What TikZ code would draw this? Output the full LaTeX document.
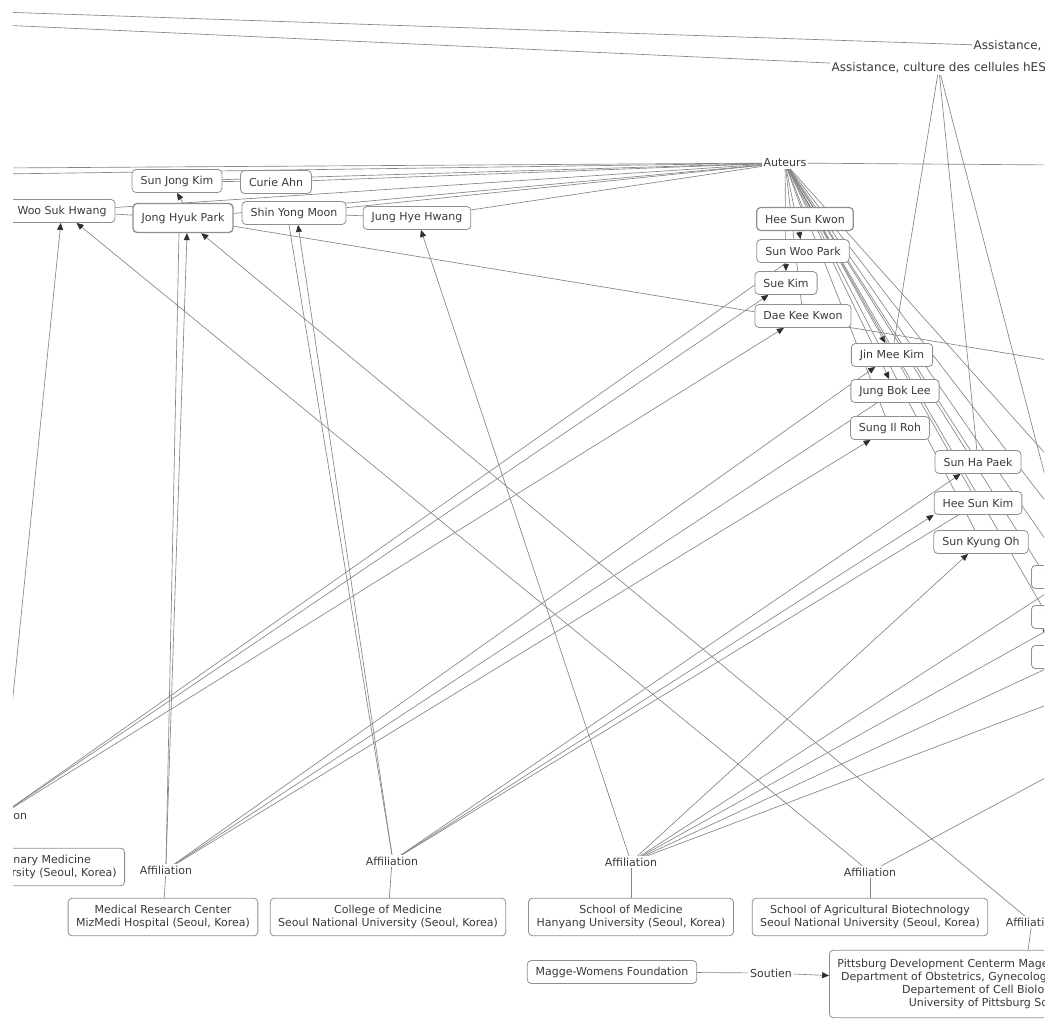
\documentclass[tikz,border=0pt]{standalone}
\usepackage{fontspec}
\setmainfont{DejaVu Sans}
\usetikzlibrary{arrows.meta,backgrounds}
\definecolor{edgecol}{HTML}{858585}
\definecolor{boxcol}{HTML}{8F8F8F}
\definecolor{txtcol}{HTML}{3A3A3A}
\definecolor{tipcol}{HTML}{2E2E2E}
\tikzset{
 person/.style={draw=boxcol, line width=0.8pt, rounded corners=4pt, fill=white, inner xsep=8.5pt, inner ysep=3pt, minimum height=23pt, text=txtcol},
 inst/.style={person, align=center, inner xsep=8pt, inner ysep=7pt},
 lbl/.style={fill=white, inner sep=1.5pt, text=txtcol},
 biglbl/.style={lbl, font=\fontsize{12}{14.5}\selectfont},
 link/.style={draw=edgecol, line width=0.65pt},
 arr/.style={-{Triangle[length=7pt,width=6pt,color=tipcol]}},
}
\begin{document}
\begin{tikzpicture}[x=1pt,y=-1pt,font=\fontsize{11}{13}\selectfont]
\begin{pgfonlayer}{background}
\fill[white] (0,0) rectangle (1053,1026);
\end{pgfonlayer}
\useasboundingbox (0,0) rectangle (1053,1026);
% off-canvas ends
\coordinate (offT1) at (0,12);
\coordinate (offT2) at (0,25);
\coordinate (offL1) at (0,168);
\coordinate (offL2) at (0,174);
\coordinate (offR1) at (1060,165);
\coordinate (offR2) at (1060,470);
\coordinate (offR3) at (1060,520);
\coordinate (offR4) at (1060,770);
\coordinate (offR5) at (1060,362);
\coordinate (offR6) at (1060,700);
\begin{scope}
\clip (13,0) rectangle (1044,1026);
% top labels
\node[biglbl, anchor=west] (as1) at (972,46) {Assistance,};
\node[biglbl, anchor=west] (as2) at (830,68) {Assistance, culture des cellules hES};
\node[lbl] (aut) at (785,163) {Auteurs};
% left authors
\node[person] (sjk) at (177,181) {Sun Jong Kim};
\node[person] (ca) at (276,182) {Curie Ahn};
\node[person] (wsh) at (62,211) {Woo Suk Hwang};
\node[person, line width=1.3pt, minimum height=29pt] (jhp) at (183,218) {Jong Hyuk Park};
\node[person] (sym) at (294,213) {Shin Yong Moon};
\node[person] (jhh) at (417,218) {Jung Hye Hwang};
% right authors
\node[person, line width=1.2pt] (hskw) at (805,219) {Hee Sun Kwon};
\node[person] (swp) at (803,251) {Sun Woo Park};
\node[person] (suek) at (786,283) {Sue Kim};
\node[person] (dkk) at (803,316) {Dae Kee Kwon};
\node[person] (jmk) at (892,355) {Jin Mee Kim};
\node[person] (jbl) at (895,391) {Jung Bok Lee};
\node[person] (sir) at (890,428) {Sung Il Roh};
\node[person] (shp) at (978,462) {Sun Ha Paek};
\node[person] (hskm) at (978,503) {Hee Sun Kim};
\node[person] (sko) at (981,542) {Sun Kyung Oh};
\node[person, anchor=west, minimum width=80pt] (r1) at (1031,577) {};
\node[person, anchor=west, minimum width=80pt] (r2) at (1031,617) {};
\node[person, anchor=west, minimum width=80pt] (r3) at (1031,657) {};
% affiliation labels
\node[lbl] (a0) at (1,815) {Affiliation};
\node[lbl] (a1) at (166,870) {Affiliation};
\node[lbl] (a2) at (392,861) {Affiliation};
\node[lbl] (a3) at (631,862) {Affiliation};
\node[lbl] (a4) at (870,872) {Affiliation};
\node[lbl] (a5) at (1032,922) {Affiliation};
% institutions
\node[inst, anchor=east] (vet) at (125,867) {College of Veterinary Medicine\\Seoul National University (Seoul, Korea)};
\node[inst] (mrc) at (163,917) {Medical Research Center\\MizMedi Hospital (Seoul, Korea)};
\node[inst] (cm) at (388,917) {College of Medicine\\Seoul National University (Seoul, Korea)};
\node[inst] (hy) at (631,917) {School of Medicine\\Hanyang University (Seoul, Korea)};
\node[inst] (agri) at (870,917) {School of Agricultural Biotechnology\\Seoul National University (Seoul, Korea)};
\node[person] (mwf) at (612,972) {Magge-Womens Foundation};
\node[lbl] (sou) at (771,973) {Soutien};
\node[inst, anchor=west, inner ysep=9pt] (pitt) at (829,984) {Pittsburg Development Centerm Magee-Womens Research Institute\\Department of Obstetrics, Gynecology and Reproductive Sciences\\Departement of Cell Biology and Physiology\\University of Pittsburg School of Medicine};
\end{scope}
\begin{pgfonlayer}{background}
\clip (13,0) rectangle (1044,1026);
% top lines
\draw[link] (offT1) -- (as1);
\draw[link] (offT2) -- (as2);
\draw[link] (as2) -- (jmk) (as2) -- (shp) (as2) -- (r1);
% Auteurs to the left
\draw[link] (aut) -- (offR1);
\draw[link] (aut) -- (ca);
\draw[link] (aut) -- (sjk);
\draw[link] (aut) -- (jhp);
\draw[link] (aut) -- (wsh);
\draw[link] (aut) -- (sym);
\draw[link] (aut) -- (jhh);
\draw[link] (aut) -- (offL1);
\draw[link] (aut) -- (offL2);
\draw[link] (sjk) -- (ca);
\draw[link] (wsh) -- (jhp);
\draw[link] (sym) -- (jhh);
\draw[link, arr] (jhp.north) -- (sjk.south);
% Auteurs to the right
\draw[link] (aut) -- (hskw);
\draw[link, arr] (aut) -- (swp);
\draw[link, arr] (aut) -- (suek);
\draw[link] (aut) -- (dkk);
\draw[link, arr] (aut) -- (jmk);
\draw[link, arr] (aut) -- (jbl);
\draw[link] (aut) -- (sir);
\draw[link] (aut) -- (shp);
\draw[link] (aut) -- (hskm);
\draw[link] (aut) -- (sko);
\draw[link] (aut) -- (r1);
\draw[link] (aut) -- (r2);
\draw[link] (aut) -- (r3);
\draw[link] (aut) -- (offR2);
\draw[link] (aut) -- (offR3);
\draw[link] (jhp) -- (offR5);
% affiliations
\draw[link, arr] (a0) -- (wsh);
\draw[link] (a0) -- (swp);
\draw[link, arr] (a0) -- (suek);
\draw[link, arr] (a0) -- (dkk);
\draw[link] (a0) -- (vet);
\draw[link] (a1.north) -- ([xshift=-4pt]jhp.south);
\draw[link, arr] (a1.north) -- ([xshift=4pt]jhp.south);
\draw[link] (a1) -- (jbl);
\draw[link, arr] (a1) -- (jmk);
\draw[link, arr] (a1) -- (sir);
\draw[link] (a1) -- (mrc);
\draw[link] (a2.north) -- ([xshift=-5pt]sym.south);
\draw[link, arr] (a2.north) -- ([xshift=4pt]sym.south);
\draw[link, arr] (a2) -- (shp);
\draw[link] (a2) -- (hskm);
\draw[link, arr] (a2) -- (hskm.south west);
\draw[link] (a2) -- (cm);
\draw[link, arr] (a3) -- (jhh);
\draw[link, arr] (a3) -- (sko);
\draw[link] (a3) -- (r1);
\draw[link, arr] (a3) -- (r2);
\draw[link] (a3) -- (r3);
\draw[link] (a3) -- (offR6);
\draw[link] (a3) -- (hy);
\draw[link, arr] (a4) -- (wsh);
\draw[link] (a4) -- (offR4);
\draw[link] (a4) -- (agri);
\draw[link, arr] (a5) -- (jhp);
\draw[link] (a5) -- (pitt);
\draw[link] (mwf) -- (sou);
\draw[link, arr] (sou) -- (pitt);
\end{pgfonlayer}
\end{tikzpicture}
\end{document}
